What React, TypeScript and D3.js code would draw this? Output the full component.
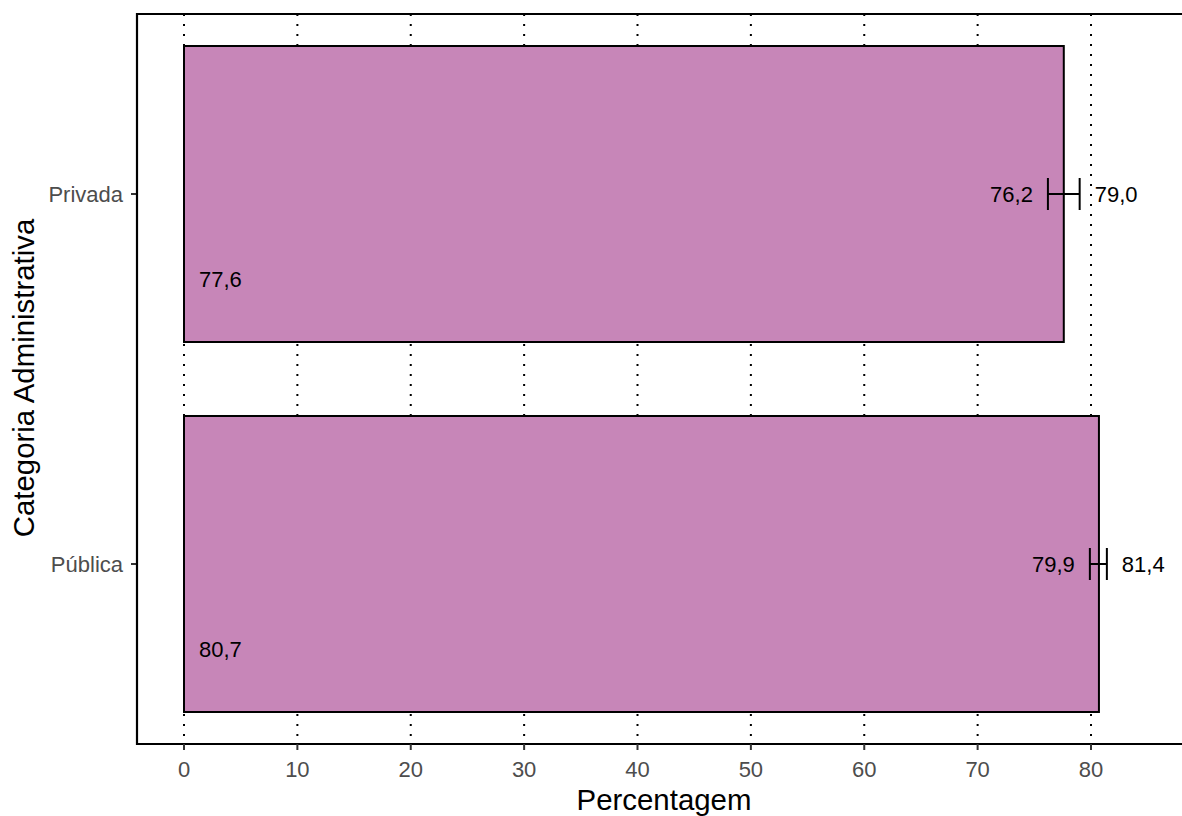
import React from "react";
import * as d3 from "d3";

const categories = ["Privada", "Pública"];
const values = [77.6, 80.7];
const lower = [76.2, 79.9];
const upper = [79.0, 81.4];
const xTicks = [0, 10, 20, 30, 40, 50, 60, 70, 80];

const fmt = (v: number) => v.toFixed(1).replace(".", ",");

export default function App() {
  const W = 1182, H = 816;
  const left = 137, right = 1182, top = 14, bottom = 744;
  const x = d3.scaleLinear().domain([0, 80]).range([184, 1091]);
  const y = d3.scaleBand<string>().domain(categories).range([top, bottom]).paddingInner(0.2).paddingOuter(0.0865);
  const font = "'Liberation Sans', Arial, sans-serif";
  const fill = "#C786B8";
  return (
    <svg width={W} height={H} style={{ position: "absolute", left: 0, top: 0 }} fontFamily={font}>
      <rect x={0} y={0} width={W} height={H} fill="#fff" />
      {xTicks.map((t) => (
        <line key={"g" + t} x1={x(t)} x2={x(t)} y1={top} y2={bottom} stroke="#000" strokeWidth={2} strokeDasharray="2,8" />
      ))}
      {categories.map((c, i) => {
        const y0 = y(c)!;
        const bw = y.bandwidth();
        const cy = y0 + bw / 2;
        return (
          <g key={c}>
            <rect x={x(0)} y={y0} width={x(values[i]) - x(0)} height={bw} fill={fill} stroke="#000" strokeWidth={2} />
            <line x1={x(lower[i])} x2={x(upper[i])} y1={cy} y2={cy} stroke="#000" strokeWidth={2} />
            <line x1={x(lower[i])} x2={x(lower[i])} y1={cy - 16} y2={cy + 16} stroke="#000" strokeWidth={2} />
            <line x1={x(upper[i])} x2={x(upper[i])} y1={cy - 16} y2={cy + 16} stroke="#000" strokeWidth={2} />
            <text x={x(lower[i]) - 15} y={cy} dy="0.35em" textAnchor="end" fontSize={22} fill="#000">{fmt(lower[i])}</text>
            <text x={x(upper[i]) + 15} y={cy} dy="0.35em" textAnchor="start" fontSize={22} fill="#000">{fmt(upper[i])}</text>
            <text x={x(0) + 15} y={cy + 85} dy="0.35em" textAnchor="start" fontSize={22} fill="#000">{fmt(values[i])}</text>
            <line x1={left - 6} x2={left} y1={cy} y2={cy} stroke="#333" strokeWidth={2} />
            <text x={left - 14} y={cy} dy="0.35em" textAnchor="end" fontSize={22} fill="#4d4d4d">{c}</text>
          </g>
        );
      })}
      <line x1={left} x2={right} y1={top} y2={top} stroke="#000" strokeWidth={2.2} />
      <line x1={left} x2={left} y1={top - 1} y2={bottom + 1} stroke="#000" strokeWidth={2.2} />
      <line x1={left - 1} x2={right} y1={bottom} y2={bottom} stroke="#000" strokeWidth={2.2} />
      {xTicks.map((t) => (
        <g key={"t" + t}>
          <line x1={x(t)} x2={x(t)} y1={bottom} y2={bottom + 6} stroke="#333" strokeWidth={2} />
          <text x={x(t)} y={777} textAnchor="middle" fontSize={22} fill="#4d4d4d">{t}</text>
        </g>
      ))}
      <text x={664} y={810} textAnchor="middle" fontSize={29.4} fill="#000">Percentagem</text>
      <text transform={`translate(34, 378) rotate(-90)`} textAnchor="middle" fontSize={29.4} fill="#000">Categoria Administrativa</text>
    </svg>
  );
}
